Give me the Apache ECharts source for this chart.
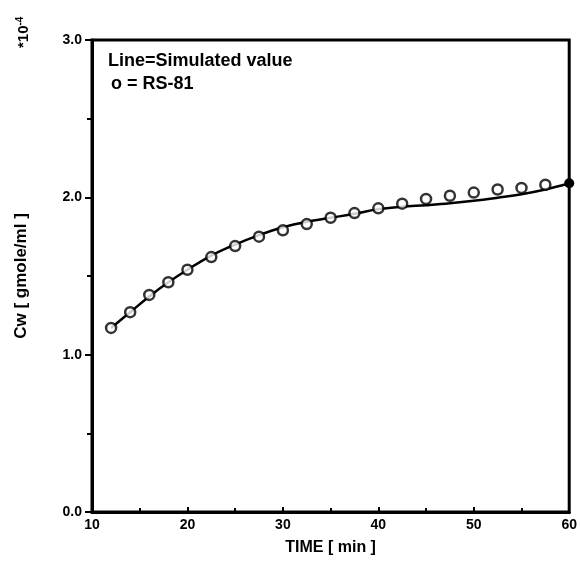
<!DOCTYPE html>
<html>
<head>
<meta charset="utf-8">
<script src="https://cdn.jsdelivr.net/npm/echarts@6/dist/echarts.min.js"></script>
<style>html,body{margin:0;padding:0;background:#fff}#c{width:580px;height:561px}</style>
</head>
<body>
<div id="c"></div>
<script>
// Measured RS-81 points (Cw in units of 1e-4 gmole/ml)
var rsTime = [12, 14, 16, 18, 20, 22.5, 25, 27.5, 30, 32.5, 35, 37.5, 40, 42.5, 45, 47.5, 50, 52.5, 55, 57.5];
var rsCw   = [1.17, 1.27, 1.38, 1.46, 1.54, 1.62, 1.69, 1.75, 1.79, 1.83, 1.87, 1.90, 1.93, 1.96, 1.99, 2.01, 2.03, 2.05, 2.06, 2.08];
// Simulated curve
var simTime = [12, 14, 16, 18, 20, 22.5, 25, 27.5, 30, 32.5, 35, 37.5, 40, 42.5, 45, 47.5, 50, 52.5, 55, 57.5, 60];
var simCw   = [1.17, 1.27, 1.37, 1.46, 1.54, 1.63, 1.70, 1.76, 1.81, 1.845, 1.87, 1.895, 1.925, 1.94, 1.95, 1.962, 1.978, 1.998, 2.02, 2.05, 2.09];
var xTicks = [10, 20, 30, 40, 50, 60];
var yTicks = [0.0, 1.0, 2.0, 3.0];

var FONT = '"Liberation Sans", Arial, sans-serif';
var chart = echarts.init(document.getElementById('c'), null, {renderer: 'canvas'});

var simData = simTime.map(function (t, i) {
  var d = {value: [t, simCw[i]]};
  if (i === simTime.length - 1) {
    d.symbol = 'circle'; d.symbolSize = 10; d.itemStyle = {color: '#000', borderWidth: 0};
  }
  return d;
});

chart.setOption({
  animation: false,
  backgroundColor: '#fff',
  grid: {left: 92, right: 9, top: 40, bottom: 49, show: true, borderColor: '#000', borderWidth: 3, backgroundColor: 'transparent'},
  xAxis: {
    type: 'value', min: xTicks[0], max: xTicks[xTicks.length - 1], interval: 10,
    axisLine: {lineStyle: {color: '#000', width: 3}},
    axisTick: {show: true, inside: true, length: 5, lineStyle: {color: '#000', width: 2}},
    minorTick: {show: true, splitNumber: 2, length: 4, lineStyle: {color: '#000', width: 2}},
    splitLine: {show: false},
    axisLabel: {color: '#000', fontFamily: FONT, fontWeight: 'bold', fontSize: 14, margin: 6},
    name: 'TIME [ min ]', nameLocation: 'middle', nameGap: 28,
    nameTextStyle: {color: '#000', fontFamily: FONT, fontWeight: 'bold', fontSize: 16}
  },
  yAxis: {
    type: 'value', min: yTicks[0], max: yTicks[yTicks.length - 1], interval: 1,
    axisLine: {lineStyle: {color: '#000', width: 3}},
    axisTick: {show: true, inside: false, length: 7, lineStyle: {color: '#000', width: 2}},
    minorTick: {show: true, splitNumber: 2, length: 5, lineStyle: {color: '#000', width: 2}},
    splitLine: {show: false},
    axisLabel: {color: '#000', fontFamily: FONT, fontWeight: 'bold', fontSize: 14, margin: 10,
      formatter: function (v) { return v.toFixed(1); }},
    name: 'Cw [ gmole/ml ]', nameLocation: 'middle', nameGap: 62, nameRotate: 90,
    nameTextStyle: {color: '#000', fontFamily: FONT, fontWeight: 'bold', fontSize: 17}
  },
  graphic: [
    {type: 'text', left: 108, top: 52, style: {text: 'Line=Simulated value', fill: '#000', font: 'bold 18px ' + FONT}},
    {type: 'text', left: 111, top: 75, style: {text: 'o = RS-81', fill: '#000', font: 'bold 18px ' + FONT}},
    {type: 'text', x: 33, y: 48, rotation: Math.PI / 2,
      style: {text: '*10{s|-4}', fill: '#000', font: 'bold 15px ' + FONT, align: 'left', verticalAlign: 'bottom',
        rich: {s: {fontSize: 10, fontWeight: 'bold', fontFamily: FONT, verticalAlign: 'top', padding: [0, 0, 8, 0]}}}}
  ],
  series: [
    {type: 'line', data: simData, symbol: 'none', smooth: 0.4, lineStyle: {color: '#000', width: 2.5}, z: 3},
    {type: 'scatter', data: rsTime.map(function (t, i) { return [t, rsCw[i]]; }),
      symbol: 'circle', symbolSize: 10, itemStyle: {color: '#fff', borderColor: '#000', borderWidth: 2.5}, z: 4}
  ]
});
</script>
</body>
</html>
